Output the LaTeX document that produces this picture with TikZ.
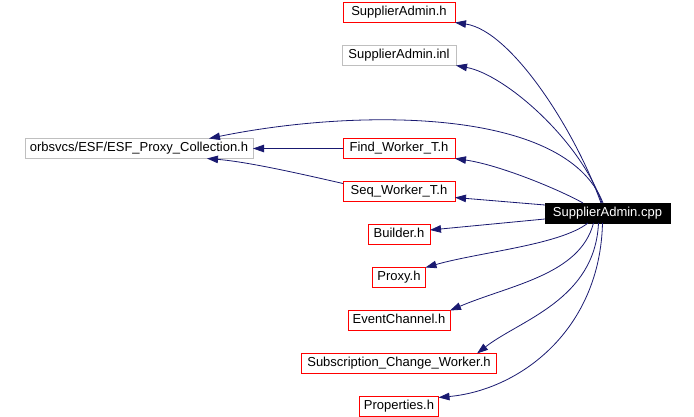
\documentclass[tikz,border=0pt]{standalone}
\usepackage{fontspec}
\setmainfont{Liberation Sans}
\usepackage{xcolor}
\usepackage{tikz}
\usetikzlibrary{arrows.meta,
positioning}

\definecolor{edgeBlue}{RGB}{25,25,112}
\definecolor{undocGray}{RGB}{191,191,191}

\begin{document}
\begin{tikzpicture}[
    x=1pt, y=-1pt,
    font=\fontsize{13}{15}\selectfont,
    node distance=23pt,
    file/.style={
        draw,
        rectangle,
        line width=0.8pt,
        minimum height=20pt,
        text height=9.5pt,
        text depth=3pt,
        inner xsep=4pt,
        inner ysep=3.5pt,
        outer sep=0pt,
        fill=white
    },
    incl/.style={
        file,
        draw=red
    },
    undoc/.style={
        file,
        draw=undocGray
    },
    current/.style={
        file,
        draw=black,
        fill=black,
        text=white
    },
    dep/.style={
        -{Triangle[length=11pt,width=7.5pt]},
        draw=edgeBlue,
        line width=0.8pt
    }
]

\useasboundingbox (0,0) rectangle (694,417);

%------------------------------------------------------------------------------
% Included headers (one column)
%------------------------------------------------------------------------------

\node[incl, minimum width=112pt] (supplierH) at (399,12.5) {SupplierAdmin.h};

\node[undoc, minimum width=114pt, below=of supplierH] (supplierInl)
    {SupplierAdmin.inl};

\node[incl, minimum width=112pt, below=73pt of supplierInl] (findWorker)
    {Find\_Worker\_T.h};

\node[incl, minimum width=112pt, below=of findWorker] (seqWorker)
    {Seq\_Worker\_T.h};

\node[incl, minimum width=62pt, below=of seqWorker] (builder)
    {Builder.h};

\node[incl, minimum width=53pt, below=of builder] (proxy)
    {Proxy.h};

\node[incl, minimum width=102pt, below=of proxy] (eventChannel)
    {EventChannel.h};

\node[incl, minimum width=195pt, below=of eventChannel] (subscriptionWorker)
    {Subscription\_Change\_Worker.h};

\node[incl, minimum width=79pt, below=of subscriptionWorker] (properties)
    {Properties.h};

%------------------------------------------------------------------------------
% Proxy collection and the file itself
%------------------------------------------------------------------------------

\node[undoc, minimum width=228pt, left=90pt of findWorker] (proxyCollection)
    {orbsvcs/ESF/ESF\_Proxy\_Collection.h};

\node[current, minimum width=125pt] (supplierCpp) at (607.5,213)
    {SupplierAdmin.cpp};

%------------------------------------------------------------------------------
% Include edges from SupplierAdmin.cpp
%------------------------------------------------------------------------------

\draw[dep]
    ([xshift=-6.5pt]supplierCpp.north)
    .. controls +(-26,-73) and +(56,8) ..
    (supplierH.south east);

\draw[dep]
    ([xshift=-5.5pt]supplierCpp.north)
    .. controls +(-22,-63) and +(49,9) ..
    (supplierInl.south east);

\draw[dep]
    ([xshift=-4.5pt]supplierCpp.north)
    .. controls +(-38,-98) and +(141,-29) ..
    ([xshift=70pt]proxyCollection.north);

\draw[dep]
    ([xshift=-24.5pt]supplierCpp.north)
    .. controls +(-23,-13) and +(45,6.5) ..
    (findWorker.south east);

\draw[dep]
    ([yshift=8pt]supplierCpp.west)
    --
    ([yshift=-6pt]seqWorker.east);

\draw[dep]
    ([yshift=-6pt]supplierCpp.west)
    --
    ([yshift=4.5pt]builder.east);

\draw[dep]
    ([xshift=-19.5pt]supplierCpp.south)
    .. controls +(-28,22) and +(54.5,-15.5) ..
    (proxy.north east);

\draw[dep]
    ([xshift=-14pt]supplierCpp.south)
    .. controls +(-13.5,52) and +(60,-25.5) ..
    (eventChannel.north east);

\draw[dep]
    ([xshift=-9pt]supplierCpp.south)
    .. controls +(-3.5,77) and +(43,-33.5) ..
    ([xshift=78pt]subscriptionWorker.north);

\draw[dep]
    ([xshift=-5pt]supplierCpp.south)
    .. controls +(-2.5,107) and +(81.5,-7.5) ..
    ([yshift=9pt]properties.east);

%------------------------------------------------------------------------------
% Worker templates include the proxy collection
%------------------------------------------------------------------------------

\draw[dep]
    (findWorker.west)
    --
    (proxyCollection.east);

\draw[dep]
    ([yshift=-2pt]seqWorker.north west)
    .. controls +(-33,-7.5) and +(43,3.5) ..
    ([xshift=68pt]proxyCollection.south);

\end{tikzpicture}
\end{document}
